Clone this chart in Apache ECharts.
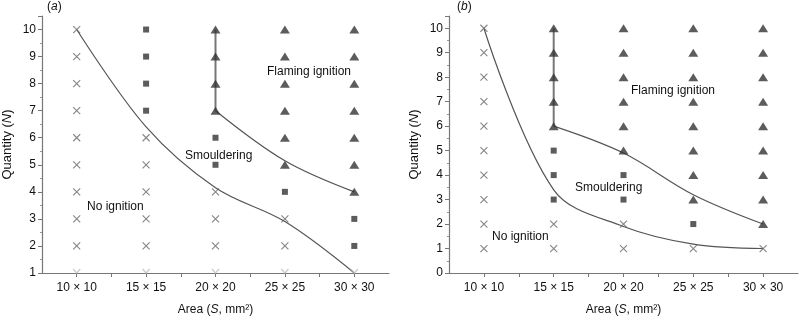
<!DOCTYPE html>
<html>
<head>
<meta charset="utf-8">
<script src="https://cdn.jsdelivr.net/npm/echarts@6/dist/echarts.min.js"></script>
<style>
  html, body { margin: 0; padding: 0; background: #fff; }
  #chart { width: 800px; height: 321px; }
</style>
</head>
<body>
<div id="chart"></div>
<script>
const categories = ['10 × 10', '15 × 15', '20 × 20', '25 × 25', '30 × 30'];

// panel (a): quantities observed at each area
const aNoIgnition = [[1, 2, 3, 4, 5, 6, 7, 8, 9, 10], [1, 2, 3, 4, 5, 6], [1, 2, 3, 4], [1, 2, 3], [1]];
const aSmoulder = [[], [7, 8, 9, 10], [5, 6], [4], [2, 3]];
const aFlaming = [[], [], [7, 8, 9, 10], [5, 6, 7, 8, 9, 10], [4, 5, 6, 7, 8, 9, 10]];
const aLowerBound = [10, 6.4, 4.15, 2.9, 1];
const aUpperBound = [null, null, 7, 5.15, 4];
const aWallAt = '20 × 20';
const aWall = [10, 7];

// panel (b)
const bNoIgnition = [[1, 2, 3, 4, 5, 6, 7, 8, 9, 10], [1, 2], [1, 2], [1], [1]];
const bSmoulder = [[], [3, 4, 5], [3, 4], [2], []];
const bFlaming = [[], [6, 7, 8, 9, 10], [5, 6, 7, 8, 9, 10], [3, 4, 5, 6, 7, 8, 9, 10], [2, 3, 4, 5, 6, 7, 8, 9, 10]];
const bLowerBound = [10, 3.4, 1.9, 1.18, 1];
const bUpperBound = [null, 6, 4.9, 3.2, 2];
const bWallAt = '15 × 15';
const bWall = [10, 6];

const yMinA = 1;
const yMinB = 0;

const FONT = 'Liberation Sans, Arial, sans-serif';
const CROSS = 'path://M0,0L10,10M10,0L0,10';
const HALF_CROSS = 'path://M0,0L5,5L10,0';

const chart = echarts.init(document.getElementById('chart'));

function points(lists, keep) {
  const out = [];
  lists.forEach((list, i) => {
    list.forEach(q => { if (!keep || keep(q)) out.push([i + 1, q]); });
  });
  return out;
}

function curve(values) {
  return values.map((v, i) => (v == null ? null : [i + 1, v])).filter(Boolean);
}

function wall(at, ends) {
  const x = categories.indexOf(at) + 1;
  return ends.map(v => [x, v]);
}

function xAxis(grid) {
  return {
    type: 'value',
    gridIndex: grid,
    min: 0.5,
    max: 5.5,
    interval: 0.5,
    splitLine: { show: false },
    axisLine: { lineStyle: { color: '#777', width: 1.2 } },
    axisTick: { length: 4, lineStyle: { color: '#777' } },
    axisLabel: {
      color: '#111',
      fontSize: 12,
      fontFamily: FONT,
      margin: 9,
      showMinLabel: false,
      showMaxLabel: false,
      formatter: v => (Number.isInteger(v) ? categories[v - 1] : '')
    },
    name: 'Area ({i|S}, mm²)',
    nameLocation: 'middle',
    nameGap: 31,
    nameTextStyle: {
      color: '#111',
      fontSize: 12,
      fontFamily: FONT,
      rich: { i: { fontStyle: 'italic', fontSize: 12, fontFamily: FONT, color: '#111' } }
    }
  };
}

function yAxis(grid, min) {
  return {
    type: 'value',
    gridIndex: grid,
    min: min,
    max: 10.5,
    interval: 1,
    splitLine: { show: false },
    axisLine: { show: true, lineStyle: { color: '#777', width: 1.2 } },
    axisTick: { show: true, length: 4, lineStyle: { color: '#777' } },
    minorTick: { show: true, splitNumber: 2, length: 2, lineStyle: { color: '#999' } },
    axisLabel: {
      color: '#111',
      fontSize: 12,
      fontFamily: FONT,
      margin: 6,
      formatter: v => (Number.isInteger(v) ? String(v) : '')
    },
    name: 'Quantity ({i|N})',
    nameLocation: 'middle',
    nameGap: 28,
    nameTextStyle: {
      color: '#111',
      fontSize: 13,
      fontFamily: FONT,
      rich: { i: { fontStyle: 'italic', fontSize: 13, fontFamily: FONT, color: '#111' } }
    }
  };
}

function panelSeries(grid, yMin, noIgn, smoulder, flaming, lower, upper, wallAt, wallEnds) {
  const base = { xAxisIndex: grid, yAxisIndex: grid, silent: true };
  return [
    Object.assign({}, base, {
      type: 'line', data: curve(lower), smooth: 0.35, showSymbol: false, z: 1,
      lineStyle: { color: '#555', width: 1.2 }
    }),
    Object.assign({}, base, {
      type: 'line', data: curve(upper), smooth: 0.35, showSymbol: false, z: 1,
      lineStyle: { color: '#555', width: 1.2 }
    }),
    Object.assign({}, base, {
      type: 'line', data: wall(wallAt, wallEnds), showSymbol: false, z: 1,
      lineStyle: { color: '#777', width: 2 }
    }),
    Object.assign({}, base, {
      type: 'scatter', data: points(noIgn, q => q > yMin), symbol: CROSS, symbolSize: 7, z: 2,
      itemStyle: { color: 'none', borderColor: '#666', borderWidth: 1.1 }
    }),
    Object.assign({}, base, {
      type: 'scatter', data: points(noIgn, q => q === yMin), symbol: HALF_CROSS,
      symbolSize: [7, 4], symbolOffset: [0, -2], z: 2,
      itemStyle: { color: 'none', borderColor: '#bbb', borderWidth: 1.1 }
    }),
    Object.assign({}, base, {
      type: 'scatter', data: points(smoulder), symbol: 'rect', symbolSize: 6, z: 3,
      itemStyle: { color: '#333' }
    }),
    Object.assign({}, base, {
      type: 'scatter', data: points(flaming), symbol: 'triangle', symbolSize: [10, 8], z: 3,
      itemStyle: { color: '#333' }
    })
  ];
}

function note(text, left, top) {
  return {
    type: 'text', left: left, top: top, z: 10,
    style: { text: text, fill: '#111', fontSize: 12, fontFamily: FONT }
  };
}

const option = {
  animation: false,
  backgroundColor: '#fff',
  grid: [
    { left: 42, width: 347, top: 16, bottom: 45 },
    { left: 449, width: 349, top: 16, bottom: 45 }
  ],
  xAxis: [xAxis(0), xAxis(1)],
  yAxis: [yAxis(0, yMinA), yAxis(1, yMinB)],
  series: [].concat(
    panelSeries(0, yMinA, aNoIgnition, aSmoulder, aFlaming, aLowerBound, aUpperBound, aWallAt, aWall),
    panelSeries(1, yMinB, bNoIgnition, bSmoulder, bFlaming, bLowerBound, bUpperBound, bWallAt, bWall)
  ),
  graphic: [
    {
      type: 'text', left: 47, top: 1,
      style: { text: '({i|a})', fill: '#111', fontSize: 12, fontFamily: FONT,
        rich: { i: { fontStyle: 'italic', fontSize: 12, fontFamily: FONT, fill: '#111' } } }
    },
    {
      type: 'text', left: 457, top: 1,
      style: { text: '({i|b})', fill: '#111', fontSize: 12, fontFamily: FONT,
        rich: { i: { fontStyle: 'italic', fontSize: 12, fontFamily: FONT, fill: '#111' } } }
    },
    note('Flaming ignition', 267, 66),
    note('Smouldering', 185, 150),
    note('No ignition', 87, 201),
    note('Flaming ignition', 631, 85),
    note('Smouldering', 575, 182),
    note('No ignition', 492, 231)
  ]
};

chart.setOption(option);
</script>
</body>
</html>
